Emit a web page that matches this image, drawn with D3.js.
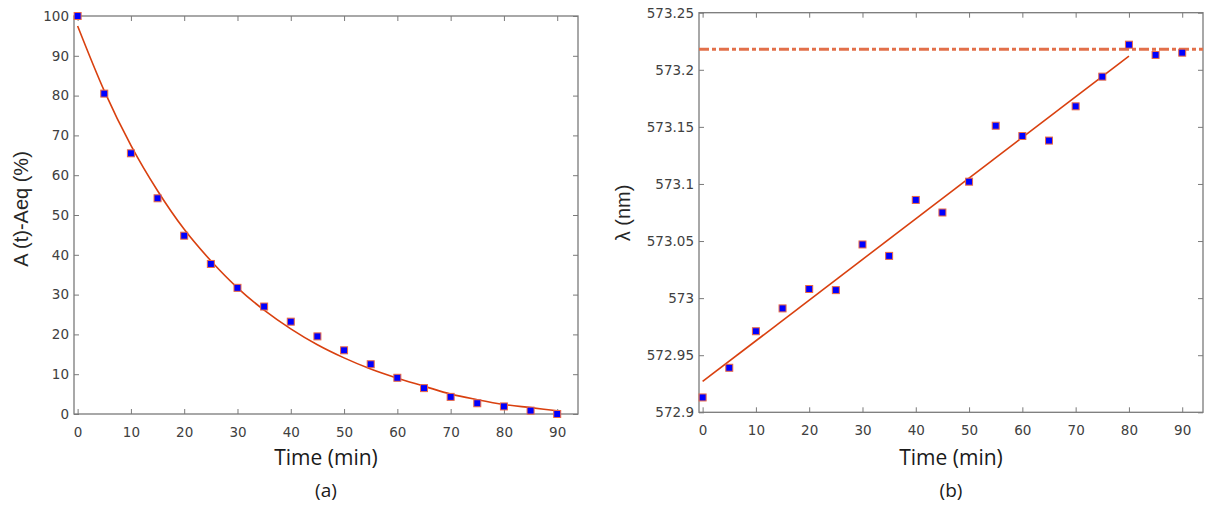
<!DOCTYPE html>
<html>
<head>
<meta charset="utf-8">
<script src="https://cdn.jsdelivr.net/npm/d3@7"></script>
<style>
  body { margin: 0; background: #fff; }
</style>
</head>
<body>
<div id="chart"></div>
<script>

// time axis shared by both panels
var times = [0,5,10,15,20,25,30,35,40,45,50,55,60,65,70,75,80,85,90];
var xTicks = [0,10,20,30,40,50,60,70,80,90];

// panel (a): A(t)-Aeq (%)
var aMeasured = [100,80.5,65.5,54.2,44.8,37.7,31.7,27,23.2,19.5,16,12.5,9.1,6.5,4.3,2.7,1.9,0.85,0];
var aFit = [97.5,81.2,67.5,56.1,46.4,38.5,31.7,26.1,21.4,17.4,14.1,11.3,9.0,7.0,5.0,3.6,2.4,1.6,0.8];
var aTicks = [0,10,20,30,40,50,60,70,80,90,100];

// panel (b): wavelength (nm)
var bMeasured = [572.913,572.939,572.971,572.991,573.008,573.007,573.047,573.037,573.086,573.075,
                 573.102,573.151,573.142,573.138,573.168,573.194,573.222,573.213,573.215];
var bFitTimes = [0,80];
var bFit = [572.927,573.212];
var bLevel = 573.218;
var bTicks = [572.9,572.95,573,573.05,573.1,573.15,573.2,573.25];

var W = 1223, H = 511;

var svg = d3.select("#chart").append("svg")
    .attr("width", W)
    .attr("height", H);

svg.append("rect").attr("width", W).attr("height", H).attr("fill", "#fff");

var lineColor = "#d9400f",
    markEdge = "#ec6a45",
    levelColor = "#e2704a";

function styleAxis(sel) {
  sel.attr("font-family", "DejaVu Sans, sans-serif")
     .attr("font-size", 13.5);
  sel.select(".domain").remove();
  sel.selectAll(".tick line").attr("stroke", "#7a7a7a");
  sel.selectAll(".tick text").attr("fill", "#404040");
}

function panel(box, yDomain, yTickVals, yTitle, yTitleX, yTitleY, tag) {
  var x = d3.scaleLinear().domain([-0.68, 93.9]).range([box.left, box.right]),
      y = d3.scaleLinear().domain(yDomain).range([box.bottom, box.top]);

  var g = svg.append("g");

  g.append("g")
      .attr("transform", "translate(0," + box.bottom + ")")
      .call(d3.axisBottom(x).tickValues(xTicks).tickSizeInner(-5).tickSizeOuter(0).tickPadding(13))
      .call(styleAxis);

  g.append("g")
      .attr("transform", "translate(0," + box.top + ")")
      .call(d3.axisTop(x).tickValues(xTicks).tickSizeInner(-5).tickSizeOuter(0).tickFormat(""))
      .call(styleAxis);

  g.append("g")
      .attr("transform", "translate(" + box.left + ",0)")
      .call(d3.axisLeft(y).tickValues(yTickVals).tickSizeInner(-5).tickSizeOuter(0).tickPadding(5)
        .tickFormat(function(d) { return String(+d.toFixed(2)); }))
      .call(styleAxis);

  g.append("g")
      .attr("transform", "translate(" + box.right + ",0)")
      .call(d3.axisRight(y).tickValues(yTickVals).tickSizeInner(-5).tickSizeOuter(0).tickFormat(""))
      .call(styleAxis);

  g.append("rect")
      .attr("x", box.left)
      .attr("y", box.top)
      .attr("width", box.right - box.left)
      .attr("height", box.bottom - box.top)
      .attr("fill", "none")
      .attr("stroke", "#7a7a7a")
      .attr("stroke-width", 1.3);

  g.append("text")
      .attr("transform", "translate(" + yTitleX + "," + yTitleY + ") rotate(-90)")
      .attr("text-anchor", "middle")
      .attr("font-family", "Liberation Sans, Arial, sans-serif")
      .attr("font-size", 20)
      .attr("fill", "#262626")
      .text(yTitle);

  var cx = (box.left + box.right) / 2;
  g.append("text")
      .attr("x", cx)
      .attr("y", 465)
      .attr("text-anchor", "middle")
      .attr("font-family", "Open Sans, sans-serif")
      .attr("font-size", 21)
      .attr("fill", "#1a1a1a")
      .text("Time (min)");

  g.append("text")
      .attr("x", cx)
      .attr("y", 497)
      .attr("text-anchor", "middle")
      .attr("font-family", "Open Sans, sans-serif")
      .attr("font-size", 19)
      .attr("fill", "#1a1a1a")
      .text(tag);

  return {x: x, y: y, g: g};
}

function markers(p, vals) {
  p.g.selectAll(".mk")
    .data(times.map(function(t, i) { return [t, vals[i]]; }))
    .enter().append("rect")
      .attr("class", "mk")
      .attr("x", function(d) { return p.x(d[0]) - 3.5; })
      .attr("y", function(d) { return p.y(d[1]) - 3.5; })
      .attr("width", 7)
      .attr("height", 7)
      .attr("fill", "#0000ff")
      .attr("stroke", markEdge)
      .attr("stroke-width", 1);
}

// ---- panel (a)
var pa = panel({left: 74, right: 578, top: 16, bottom: 414}, [0, 100], aTicks,
               "A (t)-Aeq (%)", 28, 209, "(a)");

pa.g.append("path")
    .datum(times.map(function(t, i) { return [t, aFit[i]]; }))
    .attr("fill", "none")
    .attr("stroke", lineColor)
    .attr("stroke-width", 1.6)
    .attr("d", d3.line()
      .x(function(d) { return pa.x(d[0]); })
      .y(function(d) { return pa.y(d[1]); })
      .curve(d3.curveMonotoneX));

markers(pa, aMeasured);

// ---- panel (b)
var pb = panel({left: 699, right: 1203, top: 12.7, bottom: 412.3}, [572.9, 573.25], bTicks,
               "\u03bb (nm)", 630, 213, "(b)");

pb.g.append("line")
    .attr("x1", 699)
    .attr("x2", 1203)
    .attr("y1", pb.y(bLevel))
    .attr("y2", pb.y(bLevel))
    .attr("stroke", levelColor)
    .attr("stroke-width", 3)
    .attr("stroke-dasharray", "10,3,4,3");

pb.g.append("path")
    .datum(bFitTimes.map(function(t, i) { return [t, bFit[i]]; }))
    .attr("fill", "none")
    .attr("stroke", lineColor)
    .attr("stroke-width", 1.6)
    .attr("d", d3.line()
      .x(function(d) { return pb.x(d[0]); })
      .y(function(d) { return pb.y(d[1]); }));

markers(pb, bMeasured);

</script>
</body>
</html>
